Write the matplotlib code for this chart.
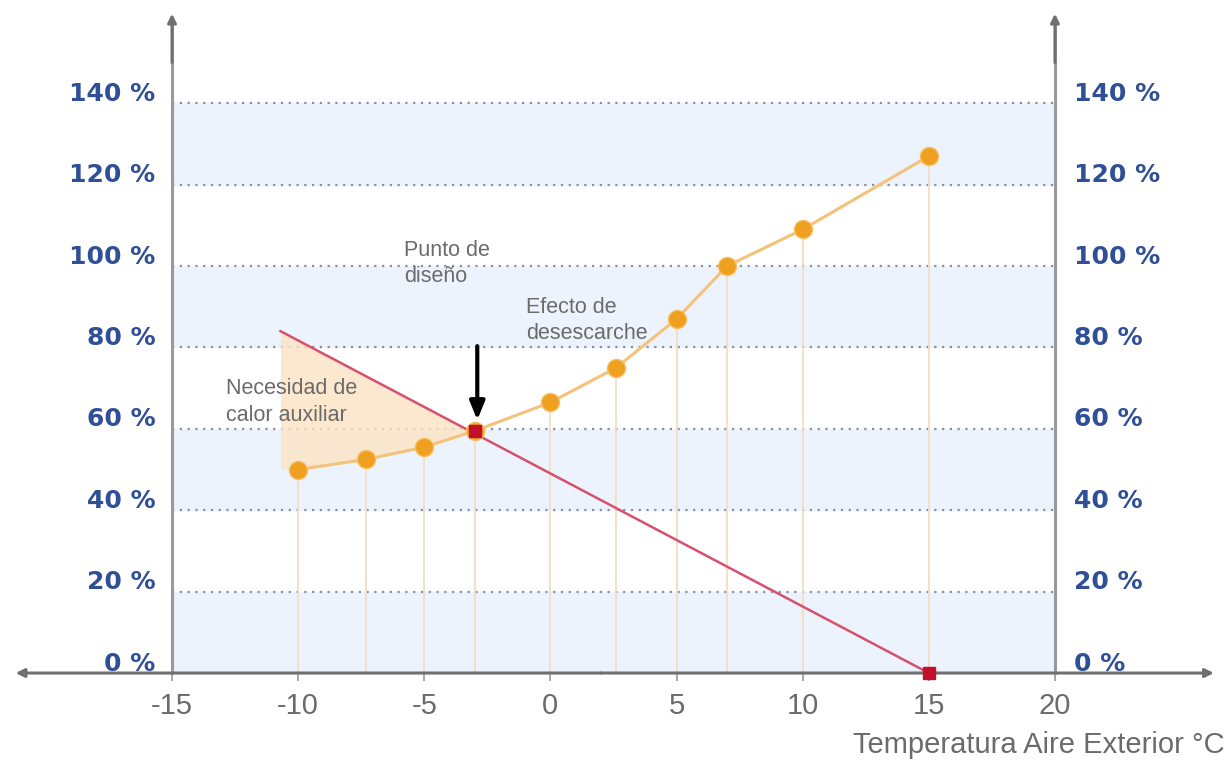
import numpy as np
import matplotlib.pyplot as plt
from matplotlib.transforms import ScaledTranslation

# Data
temp = [-10, -7.3, -5, -3, 0, 2.6, 5, 7, 10, 15]
capacity = [50, 52.5, 55.5, 59.5, 66.5, 75, 87, 100, 109, 127]
load_temp = [-10.7, 15]
load_val = [84, 0]
design_temp = [-3]
design_val = [59.5]

xticks = [-15, -10, -5, 0, 5, 10, 15, 20]
yticks = [0, 20, 40, 60, 80, 100, 120, 140]

narrow = ['Liberation Sans Narrow', 'Liberation Sans', 'DejaVu Sans']
gray_txt = '#6b6b6b'
blue_txt = '#2f4f96'
axis_col = '#9a9a9a'

fig = plt.figure(figsize=(12.27, 7.72), dpi=100)
ax = fig.add_axes([0.1402, 0.1282, 0.7196, 0.8435])
ax.set_xlim(-15, 20)
ax.set_ylim(0, 160)

# alternating background bands
for i, y0 in enumerate(yticks[:-1]):
    if i % 2 == 0:
        ax.axhspan(y0, y0 + 20, color='#edf3fc', zorder=0)
ax.hlines(yticks[1:], -15, 20, colors='#8a8fa0', linestyles=(0, (1, 2.5)), lw=1.6, zorder=1)

# vertical drop lines
ax.vlines(temp, 0, capacity, colors='#f3dcc0', lw=1.2, zorder=1)

# auxiliary heat area
xs = np.array(temp[:4])
load_at = np.interp(xs, load_temp, load_val)
ax.fill_between(np.concatenate([[load_temp[0]], xs]),
                np.concatenate([[load_val[0]], load_at]),
                np.concatenate([[capacity[0]], capacity[:4]]),
                color='#fbe3c4', alpha=0.8, lw=0, zorder=1)

# heating load line and capacity curve
ax.plot(load_temp, load_val, color='#d8506e', lw=1.8, zorder=3)
ax.plot(temp, capacity, color='#f4c27a', lw=2.2, zorder=3)
ax.plot(temp, capacity, 'o', color='#f0a020', ms=13, mec='#f6c060', mew=1, zorder=4)
ax.plot(design_temp + [load_temp[1]], design_val + [load_val[1]], 's',
        color='#c0102a', ms=9, zorder=5, clip_on=False)

# design point arrow
ax.annotate('', xy=(-2.9, 61.5), xytext=(-2.9, 81),
            arrowprops=dict(arrowstyle='-|>,head_width=0.45,head_length=1.1',
                            color='black', lw=3), zorder=6)

# annotations
ax.text(-5.8, 106.5, 'Punto de\ndiseño', fontsize=15.5, color=gray_txt,
        family=narrow, va='top', linespacing=1.35)
ax.text(-0.95, 92.5, 'Efecto de\ndesescarche', fontsize=15.5, color=gray_txt,
        family=narrow, va='top', linespacing=1.35)
ax.text(-12.85, 72.5, 'Necesidad de\ncalor auxiliar', fontsize=15.5, color=gray_txt,
        family=narrow, va='top', linespacing=1.35)

# axes styling
for s in ['top', 'bottom']:
    ax.spines[s].set_visible(False)
for s in ['left', 'right']:
    ax.spines[s].set_color(axis_col)
    ax.spines[s].set_linewidth(2.2)

ax.set_xticks(xticks)
ax.set_xticklabels([str(t) for t in xticks], family=narrow, fontsize=21, color=gray_txt)
ax.tick_params(axis='x', length=6, width=1.2, color=axis_col, pad=8)
ax.set_yticks(yticks)
ax.set_yticklabels([f'{t} %' for t in yticks], fontsize=18, fontweight='bold', color=blue_txt)
ax.tick_params(axis='y', length=0, pad=12)

ax2 = ax.twinx()
ax2.set_ylim(ax.get_ylim())
ax2.set_yticks(yticks)
ax2.set_yticklabels([f'{t} %' for t in yticks], fontsize=18, fontweight='bold', color=blue_txt)
ax2.tick_params(axis='y', length=0, pad=14)
for s in ['top', 'bottom', 'left', 'right']:
    ax2.spines[s].set_visible(False)

# percent labels sit a little above their grid lines
shift = ScaledTranslation(0, 0.12, fig.dpi_scale_trans)
for lab in ax.get_yticklabels() + ax2.get_yticklabels():
    lab.set_transform(lab.get_transform() + shift)

# axis arrows
arrow_kw = dict(arrowstyle='-|>,head_width=0.25,head_length=0.5', color='#707070',
                lw=2.2, shrinkA=0, shrinkB=0)
ax.annotate('', xy=(-21.2, 0), xytext=(2, 0), arrowprops=arrow_kw, annotation_clip=False)
ax.annotate('', xy=(26.3, 0), xytext=(2, 0), arrowprops=arrow_kw, annotation_clip=False)
ax.annotate('', xy=(-15, 162), xytext=(-15, 150), arrowprops=arrow_kw, annotation_clip=False)
ax.annotate('', xy=(20, 162), xytext=(20, 150), arrowprops=arrow_kw, annotation_clip=False)

fig.text(0.998, 0.035, 'Temperatura Aire Exterior °C', ha='right', va='center',
         fontsize=21, color=gray_txt, family=narrow)

fig.savefig('out.png', dpi=100)
